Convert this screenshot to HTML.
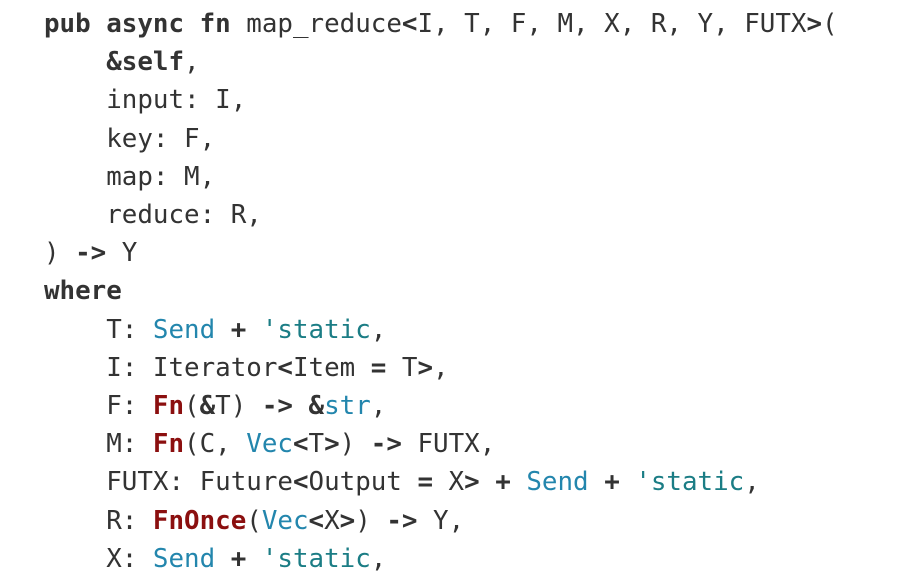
<!DOCTYPE html>
<html><head><meta charset="utf-8"><style>
html,body{margin:0;padding:0;background:#fff;width:904px;height:582px;overflow:hidden}
pre{margin:0;position:absolute;left:44px;top:5px;font-family:"DejaVu Sans Mono","Liberation Mono",monospace;font-size:25.85px;line-height:38.2px;color:#333}
b{font-weight:bold;color:#333}
.t{color:#2386ad}
.s{color:#1b7d85}
.r{color:#8b0f0f;font-weight:bold}
</style></head><body>
<pre><b>pub</b> <b>async</b> <b>fn</b> map_reduce<b>&lt;</b>I, T, F, M, X, R, Y, FUTX<b>&gt;</b>(
    <b>&amp;self</b>,
    input: I,
    key: F,
    map: M,
    reduce: R,
) <b>-&gt;</b> Y
<b>where</b>
    T: <span class="t">Send</span> <b>+</b> <span class="s">'static</span>,
    I: Iterator<b>&lt;</b>Item <b>=</b> T<b>&gt;</b>,
    F: <span class="r">Fn</span>(<b>&amp;</b>T) <b>-&gt;</b> <b>&amp;</b><span class="t">str</span>,
    M: <span class="r">Fn</span>(C, <span class="t">Vec</span><b>&lt;</b>T<b>&gt;</b>) <b>-&gt;</b> FUTX,
    FUTX: Future<b>&lt;</b>Output <b>=</b> X<b>&gt;</b> <b>+</b> <span class="t">Send</span> <b>+</b> <span class="s">'static</span>,
    R: <span class="r">FnOnce</span>(<span class="t">Vec</span><b>&lt;</b>X<b>&gt;</b>) <b>-&gt;</b> Y,
    X: <span class="t">Send</span> <b>+</b> <span class="s">'static</span>,
</pre>
</body></html>
